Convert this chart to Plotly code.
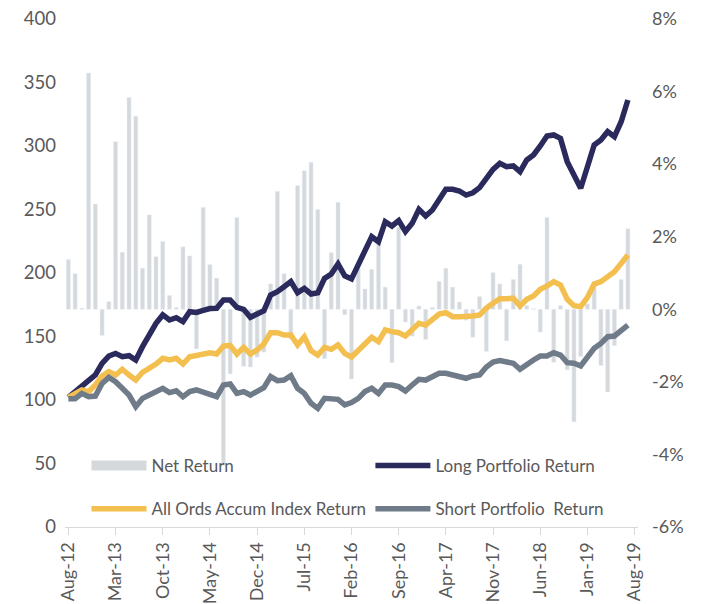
import plotly.graph_objects as go

# ---- data ----
tick_labels = ["Aug-12", "Mar-13", "Oct-13", "May-14", "Dec-14", "Jul-15", "Feb-16",
               "Sep-16", "Apr-17", "Nov-17", "Jun-18", "Jan-19", "Aug-19"]

pct_tick_values = [-6, -4, -2, 0, 2, 4, 6, 8]
pct_tick_labels = ["-6%", "-4%", "-2%", "0%", "2%", "4%", "6%", "8%"]

net_return = [1.37, 0.98, 0.03, 6.51, 2.90, -0.72, 0.21, 4.62, 1.57, 5.84,
              5.32, 1.13, 2.60, 1.45, 1.87, 0.38, 0.05, 1.72, 1.47, -1.09,
              2.81, 1.23, 0.86, -4.30, -1.78, 2.53, -1.57, -1.59, -1.32, -1.18,
              0.70, 3.25, 0.98, -0.81, 3.41, 3.82, 4.05, 2.75, -1.36, 1.56,
              2.95, -0.15, -1.92, 1.12, 0.56, 1.10, 1.78, 0.61, -1.47, 2.26,
              -0.35, -0.74, 0.09, -0.83, 0.05, 0.77, 1.13, 0.61, 0.20, -0.30,
              -0.77, 0.35, -1.16, 1.01, 0.70, -0.87, 0.82, 1.24, 0.10, 0.02,
              -0.63, 2.53, -1.46, 0.10, -1.67, -3.10, -1.30, 0.15, 0.75, -1.55,
              -2.28, -1.00, 0.82, 2.22]

long_portfolio = [102, 106.6, 111, 115.2, 119.7, 128.9, 134.6, 136.7, 134.1, 134.9,
                  131.5, 142, 152, 160.4, 167, 163, 164.8, 161.7, 169.5, 169,
                  170.5, 172, 172.2, 178.7, 178.7, 173, 171.4, 165.1, 167.7, 170.3,
                  182.7, 185.3, 189.2, 193.2, 184.5, 187.9, 183.5, 184.5, 195.8, 199.2,
                  207.1, 197.7, 195.4, 207.1, 218.6, 228.6, 224.6, 240.4, 237, 241.2,
                  232.6, 239.1, 250.1, 244.9, 249.6, 258.8, 265.9, 265.9, 264.6, 261.4,
                  263.2, 267.2, 274.5, 281.6, 286.3, 283.7, 284.3, 279.8, 289, 292.9,
                  300, 307.9, 308.7, 306, 287.7, 277.2, 266.7, 283.7, 300.8, 304.7,
                  311.3, 307.3, 319.1, 336.2]

all_ords = [102, 105.2, 107.9, 106.6, 111.8, 118.9, 122.3, 119.7, 124.2, 119.7,
            115.7, 121.8, 125, 128.3, 132.8, 131.5, 132.8, 128.3, 134.1, 134.9,
            136.7, 137.2, 136.2, 142.5, 143, 136.2, 141.5, 136.2, 139.4, 144.1,
            153, 153, 151.2, 151.2, 143.3, 149.8, 138.8, 135.4, 141.5, 139.9,
            143.3, 136.7, 133.8, 138.8, 144.6, 149.4, 145.9, 155.1, 153.8, 153,
            150.4, 155.1, 160.4, 159, 163, 167.7, 168.7, 165.6, 165.6, 165.6,
            166.1, 166.9, 172.3, 176.1, 179.8, 179.8, 180.1, 174, 179.3, 181.9,
            187.1, 189.8, 193.2, 190.6, 179.3, 174.3, 173.5, 180.9, 191.3, 193.2,
            197.1, 201, 207.6, 214.2]

short_portfolio = [101, 101, 105.2, 102.6, 103.1, 113.1, 117.8, 114.4, 109.2, 103.9,
                   94.7, 101.3, 103.9, 106, 109.2, 105.8, 107.3, 102.6, 106.6, 107.9,
                   105.9, 104.3, 102.6, 111.8, 112.6, 105.2, 106.6, 103.9, 106.6, 109.7,
                   118.4, 115.2, 115.7, 119.1, 109.2, 105.2, 97.4, 93.4, 101.3, 101.3,
                   100.5, 96.1, 98, 101.3, 106.6, 109.2, 105.2, 111.8, 111.8, 110.5,
                   107.1, 111.8, 116.3, 115.7, 117.8, 121, 121, 119.7, 118.4, 117.1,
                   118.9, 119.7, 126, 129.9, 131, 130.2, 128.9, 124.2, 128.3, 131.5,
                   134.6, 134.6, 137.3, 135.4, 129.4, 128.9, 126.8, 134.1, 140.7, 144.6,
                   149.8, 150.4, 154.6, 159]

months = list(range(len(net_return)))
tick_positions = [7 * k for k in range(len(tick_labels))]

# ---- styles ----
FONT = "Lato"
TXT = "#595959"
BAR_C = "#d6d9dc"
NAVY = "#2b2a5c"
GOLD = "#f3bf4f"
SLATE = "#6f7b88"
LW = 5.5

fig = go.Figure()

fig.add_trace(go.Bar(x=months, y=net_return, name="Net Return", marker_color=BAR_C,
                     width=0.6, yaxis="y", showlegend=False))
# legend entry for the bars (wide swatch like the original)
fig.add_trace(go.Scatter(x=[None], y=[None], mode="lines", name="Net Return",
                         line=dict(color=BAR_C, width=11), yaxis="y2", legend="legend"))
fig.add_trace(go.Scatter(x=months, y=long_portfolio, mode="lines", name="Long Portfolio Return",
                         line=dict(color=NAVY, width=LW), yaxis="y2", legend="legend2"))
fig.add_trace(go.Scatter(x=months, y=all_ords, mode="lines", name="All Ords Accum Index Return",
                         line=dict(color=GOLD, width=LW), yaxis="y2", legend="legend3"))
fig.add_trace(go.Scatter(x=months, y=short_portfolio, mode="lines", name="Short Portfolio  Return",
                         line=dict(color=SLATE, width=LW), yaxis="y2", legend="legend4"))

legend_common = dict(orientation="h", xanchor="left", yanchor="middle",
                     font=dict(family=FONT, size=17, color=TXT),
                     bgcolor="rgba(0,0,0,0)", itemwidth=55)

fig.update_layout(
    width=694, height=596,
    margin=dict(l=57, r=64, t=11, b=77, autoexpand=False),
    plot_bgcolor="white", paper_bgcolor="white",
    font=dict(family=FONT, color=TXT),
    barmode="overlay",
    xaxis=dict(range=[-0.5, 84.5], tickvals=tick_positions, ticktext=tick_labels,
               tickangle=-90, tickfont=dict(size=18, color=TXT), automargin=False,
               showline=True, linecolor="#d9d9d9", linewidth=1,
               ticks="outside", ticklen=7, tickcolor="#d9d9d9",
               showgrid=False, zeroline=False, ticklabeloverflow="allow"),
    yaxis=dict(side="right", range=[-6, 8], tickvals=pct_tick_values, ticktext=pct_tick_labels,
               tickfont=dict(size=18, color=TXT), showgrid=False, zeroline=False,
               ticklabelstandoff=13, automargin=False, ticklabeloverflow="allow"),
    yaxis2=dict(side="left", overlaying="y", range=[0, 400], dtick=50,
                tickfont=dict(size=18.5, color=TXT), showgrid=False, zeroline=False,
                ticklabelstandoff=8, automargin=False, ticklabeloverflow="allow"),
    legend=dict(x=0.0375, y=0.12, **legend_common),
    legend2=dict(x=0.533, y=0.12, **legend_common),
    legend3=dict(x=0.0375, y=0.035, **legend_common),
    legend4=dict(x=0.533, y=0.035, **legend_common),
)

fig.write_html("out.html")
